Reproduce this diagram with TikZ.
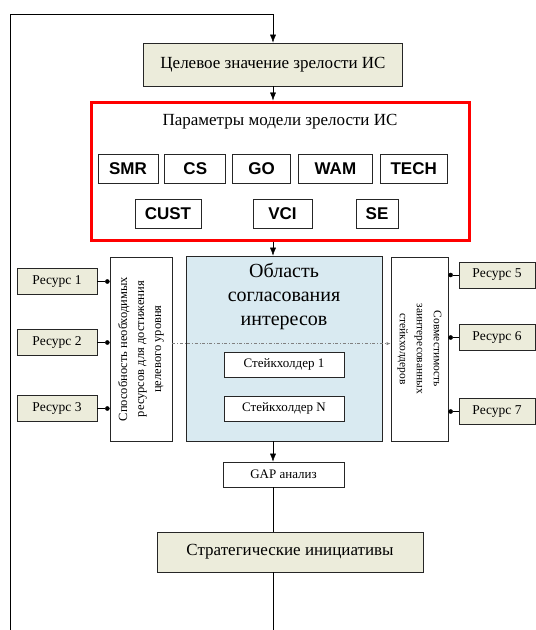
\documentclass[tikz,border=0pt]{standalone}
\usepackage{fontspec}
\setmainfont{Liberation Serif}
\newfontfamily\parfont{Liberation Sans}
\usetikzlibrary{positioning,arrows.meta}
\definecolor{beige}{RGB}{236,236,219}
\definecolor{pale}{RGB}{217,234,241}

\begin{document}
\begin{tikzpicture}[x=1pt,y=-1pt,>={Latex[length=8pt,width=6pt]},node distance=6pt,
	box/.style={draw=black!85,thick,inner sep=0pt},
	level/.style={box,fill=beige,font=\fontsize{17}{19}\selectfont},
	param/.style={box,minimum height=29pt,font=\parfont\bfseries\fontsize{17}{19}\selectfont},
	res/.style={box,fill=beige,minimum width=80pt,minimum height=26pt,font=\fontsize{13.5}{15}\selectfont},
	side/.style={box,minimum height=184pt},
	holder/.style={box,fill=white,minimum width=120pt,minimum height=25pt,font=\fontsize{13}{15}\selectfont},
	dot/.style={-{Circle[length=4.5pt]}}]
	\useasboundingbox (0,0) rectangle (536,630);
	% main column
	\node[level,minimum width=259pt,minimum height=43pt] (goal) at (273,64.5) {Целевое значение зрелости ИС};
	\node[draw=red,line width=3pt,minimum width=378pt,minimum height=138pt] (params) at (280,171) {};
	\node[font=\fontsize{17}{19}\selectfont] (paramtitle) at (280,122) {Параметры модели зрелости ИС};
	\node[box,fill=pale,minimum width=196pt,minimum height=185pt] (area) at (284,348.5) {};
	\node[align=center,font=\fontsize{20}{24}\selectfont] (areatitle) at (284,296) {Область\\согласования\\интересов};
	\node[box,minimum width=121pt,minimum height=25pt,font=\fontsize{13}{15}\selectfont] (gap) at (283.5,474.5) {GAP анализ};
	\node[level,minimum width=266pt,minimum height=40pt] (strat) at (290,552) {Стратегические инициативы};
	% maturity parameters
	\node[param,minimum width=60pt] (smr) at (128,168.5) {SMR};
	\node[param,minimum width=61pt] (cs) [right=of smr] {CS};
	\node[param,minimum width=58pt] (go) [right=of cs] {GO};
	\node[param,minimum width=74pt] (wam) [right=7pt of go] {WAM};
	\node[param,minimum width=67pt] (tech) [right=7pt of wam] {TECH};
	\node[param,minimum width=66pt] (cust) at (168,213.5) {CUST};
	\node[param,minimum width=59pt] (vci) at (282.5,213.5) {VCI};
	\node[param,minimum width=42pt] (se) at (377,213.5) {SE};
	% side boxes
	\node[side,minimum width=62pt] (ability) at (141,349) {};
	\node[rotate=90,align=center,font=\fontsize{12.5}{17}\selectfont] (abilitytext) at (ability) {Способность необходимых\\ресурсов для достижения\\целевого уровня};
	\node[side,minimum width=57pt] (compat) at (419.5,349) {};
	\node[rotate=-90,align=center,font=\fontsize{11.5}{17}\selectfont] (compattext) at (compat) {Совместимость\\заинтересованных\\стейкхолдеров};
	\node[holder] (sh1) at (284,364.5) {Стейкхолдер 1};
	\node[holder] (shn) at (284,408.5) {Стейкхолдер N};
	% resources
	\node[res] (res1) at (57,281.5) {Ресурс 1};
	\node[res] (res2) at (57,342.5) {Ресурс 2};
	\node[res] (res3) at (57,408.5) {Ресурс 3};
	\node[res,minimum width=76pt] (res5) at (497,275) {Ресурс 5};
	\node[res,minimum width=76pt] (res6) at (497,337.5) {Ресурс 6};
	\node[res,minimum width=76pt] (res7) at (497,411.5) {Ресурс 7};
	\coordinate (fbtop) at (10,14);
	\coordinate (fbbot) at (10,630);
	\coordinate (outbot) at (273,630);
	% connectors
	\draw[->] (fbbot) -- (fbtop) -| (goal);
	\path[->] 
	(goal) edge (goal |- params.north)
	(goal |- params.south) edge (goal |- area.north)
	(goal |- area.south) edge (goal |- gap.north);
	\draw (goal |- gap.south) -- (goal |- strat.north);
	\draw (goal |- strat.south) -- (outbot);
	\path[dot] 
	(res1) edge (res1 -| ability.west)
	(res2) edge (res2 -| ability.west)
	(res3) edge (res3 -| ability.west)
	(res5) edge (res5 -| compat.east)
	(res6) edge (res6 -| compat.east)
	(res7) edge (res7 -| compat.east);
	\draw[dashdotted,gray,-{Latex[length=4pt]}] ([yshift=8pt]sh1.north -| ability.east) -- ([yshift=8pt]sh1.north -| compat.west);
\end{tikzpicture}
\end{document}
